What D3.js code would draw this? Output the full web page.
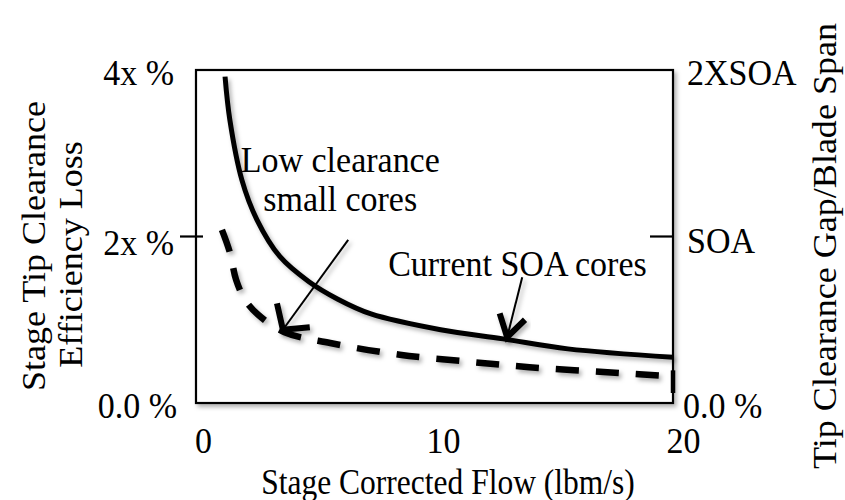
<!DOCTYPE html>
<html>
<head>
<meta charset="utf-8">
<script src="https://cdn.jsdelivr.net/npm/d3@7"></script>
<style>
  html, body { margin: 0; padding: 0; background: #fff; }
  svg { display: block; }
  text { font-family: "Liberation Serif", "Times New Roman", serif; fill: #000; }
</style>
</head>
<body>
<svg id="chart" width="845" height="500"></svg>
<script>
// ---- data ----
const xTicks = [0, 10, 20];
const xTickLabels = ["0", "10", "20"];
const yTicks = [0, 2, 4];
const yLeftLabels = ["0.0 %", "2x %", "4x %"];
const yRightLabels = ["0.0 %", "SOA", "2XSOA"];

// Current SOA cores (solid)
const solidX = [0.92, 1.12, 1.62, 2.25, 3.2, 4.4, 5.6, 7.0, 9.9, 12.5, 15.2, 19.58];
const solidY = [3.92, 3.40, 2.68, 2.20, 1.76, 1.46, 1.25, 1.07, 0.88, 0.77, 0.65, 0.55];
// Low clearance small cores (dashed)
const dashX = [0.79, 1.12, 1.38, 1.75, 2.3, 3.4, 5.3, 8.2, 11.3, 13.6, 17.4, 19.58];
const dashY = [2.08, 1.81, 1.48, 1.24, 1.06, 0.85, 0.72, 0.58, 0.49, 0.43, 0.36, 0.32];

// annotations (data units)
const noteLow = { lines: ["Low clearance", "small cores"], x: 5.72, y: [2.77, 2.31],
                  from: [6.05, 1.96], to: [3.33, 0.88] };
const noteSOA = { lines: ["Current SOA cores"], x: 13.1, y: [1.53],
                  from: [13.3, 1.51], to: [12.67, 0.79] };

// ---- layout ----
const svg = d3.select("#chart");
const box = { left: 196, right: 673, top: 70, bottom: 403 };
const x = d3.scaleLinear().domain([-0.29, 19.58]).range([box.left, box.right]);
const y = d3.scaleLinear().domain([0, 4]).range([box.bottom, box.top]);
const FS = 34, K = 1.06;

const defs = svg.append("defs");
const f = defs.append("filter").attr("id", "shadow")
  .attr("x", "-20%").attr("y", "-20%").attr("width", "140%").attr("height", "140%");
f.append("feDropShadow").attr("dx", 2.5).attr("dy", 3).attr("stdDeviation", 2.2)
  .attr("flood-color", "#000").attr("flood-opacity", 0.3);

// plot box
svg.append("rect")
  .attr("x", box.left).attr("y", box.top)
  .attr("width", box.right - box.left).attr("height", box.bottom - box.top)
  .attr("fill", "#fff").attr("stroke", "#000").attr("stroke-width", 2.2)
  .attr("filter", "url(#shadow)");

// tick marks at 2x / SOA
svg.append("line").attr("x1", box.left - 16).attr("x2", box.left + 7)
  .attr("y1", y(2)).attr("y2", y(2)).attr("stroke", "#000").attr("stroke-width", 2.2);
svg.append("line").attr("x1", box.right - 23).attr("x2", box.right)
  .attr("y1", y(2)).attr("y2", y(2)).attr("stroke", "#000").attr("stroke-width", 2.2);

// axes (labels only)
const xAxis = d3.axisBottom(x).tickValues(xTicks).tickFormat((d, i) => xTickLabels[i]).tickSize(0);
const gx = svg.append("g").attr("transform", `translate(0,${box.bottom})`).call(xAxis);
gx.select(".domain").remove();
gx.selectAll("text").attr("font-size", FS).attr("font-family", "Liberation Serif")
  .attr("y", 0).attr("dy", 0).attr("transform", `translate(0,50) scale(1,${K})`);

const yAxisL = d3.axisLeft(y).tickValues(yTicks).tickFormat((d, i) => yLeftLabels[i]).tickSize(0);
const gyl = svg.append("g").attr("transform", `translate(${box.left - 22},0)`).call(yAxisL);
gyl.select(".domain").remove();
gyl.selectAll("text").attr("font-size", FS).attr("font-family", "Liberation Serif")
  .attr("x", 0).attr("y", 0).attr("dy", 0)
  .attr("transform", d => `translate(${d === 0 ? 3 : 0},${d === 2 ? 18 : 14}) scale(1,${K})`);

const yAxisR = d3.axisRight(y).tickValues(yTicks).tickFormat((d, i) => yRightLabels[i]).tickSize(0);
const gyr = svg.append("g").attr("transform", `translate(${box.right + 12},0)`).call(yAxisR);
gyr.select(".domain").remove();
gyr.selectAll("text").attr("font-size", FS).attr("font-family", "Liberation Serif")
  .attr("x", 0).attr("y", 0).attr("dy", 0)
  .attr("transform", d => `translate(${d === 0 ? -2 : 2},${d === 2 ? 16 : 14}) scale(1,${K})`);

// axis titles
svg.append("text").attr("transform", `translate(448,494) scale(1,1.12)`).attr("text-anchor", "middle")
  .attr("font-size", 31.5).text("Stage Corrected Flow (lbm/s)");
const lt = svg.append("text").attr("transform", `translate(45,246) rotate(-90) scale(${K},1)`)
  .attr("text-anchor", "middle").attr("font-size", FS);
lt.append("tspan").attr("x", 0).attr("y", 0).text("Stage Tip Clearance");
lt.append("tspan").attr("x", -8).attr("y", 37).text("Efficiency Loss");
svg.append("text").attr("transform", `translate(836,246) rotate(-90) scale(${K},1)`)
  .attr("text-anchor", "middle").attr("font-size", FS).text("Tip Clearance Gap/Blade Span");

// curves
const line = d3.line().x(d => x(d[0])).y(d => y(d[1])).curve(d3.curveCatmullRom.alpha(0.5));
svg.append("path").datum(solidX.map((v, i) => [v, solidY[i]]))
  .attr("d", line).attr("fill", "none").attr("stroke", "#000").attr("stroke-width", 5)
  .attr("filter", "url(#shadow)");
svg.append("path").datum(dashX.map((v, i) => [v, dashY[i]]))
  .attr("d", line).attr("fill", "none").attr("stroke", "#000").attr("stroke-width", 6.5)
  .attr("stroke-dasharray", "23 17").attr("filter", "url(#shadow)");
// thick end cap on the right frame edge next to the dashed line
svg.append("line").attr("x1", box.right).attr("x2", box.right)
  .attr("y1", y(dashY[dashY.length - 1]) - 6).attr("y2", box.bottom - 10)
  .attr("stroke", "#000").attr("stroke-width", 4.5);

// annotations
function annotate(n, L, spread) {
  n.lines.forEach((t, i) => {
    svg.append("text").attr("transform", `translate(${x(n.x)},${y(n.y[i])}) scale(1,${K})`)
      .attr("text-anchor", "middle").attr("font-size", FS).text(t);
  });
  const x0 = x(n.from[0]), y0 = y(n.from[1]), x1 = x(n.to[0]), y1 = y(n.to[1]);
  const g = svg.append("g").attr("filter", "url(#shadow)");
  g.append("line").attr("x1", x0).attr("y1", y0).attr("x2", x1).attr("y2", y1)
    .attr("stroke", "#000").attr("stroke-width", 2);
  const ang = Math.atan2(y0 - y1, x0 - x1);
  const p1 = [x1 + L * Math.cos(ang - spread), y1 + L * Math.sin(ang - spread)];
  const p2 = [x1 + L * Math.cos(ang + spread), y1 + L * Math.sin(ang + spread)];
  g.append("path").attr("d", `M${p1[0]},${p1[1]}L${x1},${y1}L${p2[0]},${p2[1]}`)
    .attr("fill", "none").attr("stroke", "#000").attr("stroke-width", 6)
    .attr("stroke-linejoin", "miter");
}
annotate(noteLow, 27, 0.85);
annotate(noteSOA, 25, 0.55);
</script>
</body>
</html>
